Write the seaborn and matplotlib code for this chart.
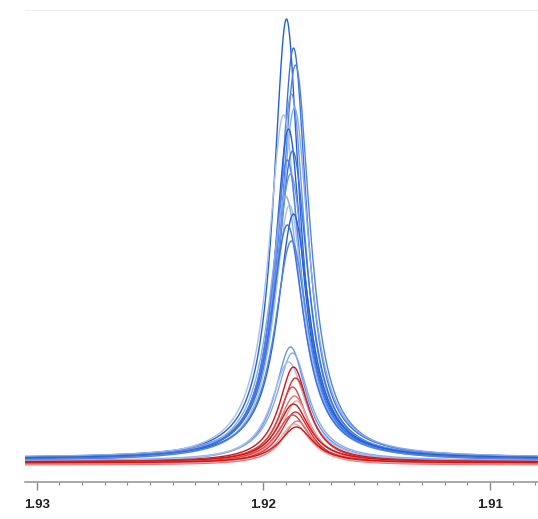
import numpy as np
import pandas as pd
import matplotlib
matplotlib.use("Agg")
import matplotlib.pyplot as plt
import seaborn as sns
from matplotlib.ticker import MultipleLocator

# ---- data ----
# blue spectra: peak position (ppm), peak height (arb.), half width (ppm)
blue_centers = [1.91898, 1.91867, 1.91858, 1.91876, 1.91863, 1.91911, 1.91889, 1.91871,
                1.91894, 1.91880, 1.91902, 1.91885, 1.91867, 1.91894, 1.91876, 1.91880,
                1.91871, 1.91889]
blue_heights = [440, 410, 395, 365, 350, 345, 330, 310, 300, 285, 265, 255, 245, 235, 220,
                115, 108, 100]
blue_widths = [0.00070, 0.00072, 0.00078, 0.00075, 0.00080, 0.00082, 0.00076, 0.00084,
               0.00079, 0.00085, 0.00088, 0.00082, 0.00086, 0.00090, 0.00092,
               0.00085, 0.00088, 0.00092]
blue_offsets = [3, 4, 2, 3, 4, 2, 3, 1, 2, 3, 1, 2, 3, 2, 1, 0, 1, 0]

red_centers = [1.91867, 1.91858, 1.91871, 1.91863, 1.91854, 1.91867, 1.91858, 1.91871,
               1.91850, 1.91863, 1.91854]
red_heights = [95, 85, 75, 68, 62, 58, 52, 48, 44, 40, 36]
red_widths = [0.00078, 0.00080, 0.00076, 0.00084, 0.00078, 0.00086, 0.00082, 0.00088,
              0.00080, 0.00085, 0.00090]
red_offsets = [0, -1, 0, -2, -1, 0, -2, -1, -3, -2, -1]

tick_labels = ["1.93", "1.92", "1.91"]

# ---- build long-form table ----
ppm = np.linspace(1.9079, 1.9306, 1500)
rows = []
def add(group, i, c, h, w, off):
    y = h / (1.0 + ((ppm - c) / w) ** 2) + off
    rows.append(pd.DataFrame({"ppm": ppm, "I": y, "spec": f"{group}{i:02d}"}))

for i, (c, h, w, o) in enumerate(zip(blue_centers, blue_heights, blue_widths, blue_offsets)):
    add("b", i, c, h, w, o)
for i, (c, h, w, o) in enumerate(zip(red_centers, red_heights, red_widths, red_offsets)):
    add("r", i, c, h, w, o)
df = pd.concat(rows, ignore_index=True)

nb, nr = len(blue_centers), len(red_centers)
blue_cmap = matplotlib.colors.LinearSegmentedColormap.from_list("bl", ["#2260d8", "#5b8ae6", "#a6bfee"])
red_cmap = matplotlib.colors.LinearSegmentedColormap.from_list("rd", ["#d01515", "#d84848", "#e8a6a6"])
palette = {}
for i in range(nb):
    palette[f"b{i:02d}"] = blue_cmap((i % 6) / 5.0)
for i in range(nr):
    palette[f"r{i:02d}"] = red_cmap((i % 5) / 4.0)

# ---- plot ----
sns.set_style("white")
fig = plt.figure(figsize=(5.38, 5.19), dpi=100)
ax = fig.add_axes([0.046, 0.0713, 0.954, 0.9094])

order = [f"b{i:02d}" for i in range(nb)] + [f"r{i:02d}" for i in range(nr)]
sns.lineplot(data=df, x="ppm", y="I", hue="spec", hue_order=order, palette=palette,
             linewidth=1.0, legend=False, ax=ax, estimator=None, sort=False)

ax.set_xlim(1.93053, 1.90788)
ax.set_ylim(-20, 452)
ax.set_xlabel("")
ax.set_ylabel("")
ax.set_yticks([])
ax.set_xticks([1.93, 1.92, 1.91])
ax.set_xticklabels(tick_labels, fontfamily="Liberation Sans", fontweight="bold",
                   fontsize=9.5, color="#222222")
ax.xaxis.set_minor_locator(MultipleLocator(0.001))
ax.tick_params(axis="x", which="major", direction="out", length=6, width=1, color="#888888", pad=6)
ax.tick_params(axis="x", which="minor", direction="out", length=2.5, width=0.8, color="#888888")
ax.tick_params(axis="x", bottom=True, which="both")
for s in ["left", "right"]:
    ax.spines[s].set_visible(False)
ax.spines["top"].set_color("#f0f0f0")
ax.spines["bottom"].set_color("#999999")
ax.spines["bottom"].set_linewidth(1.2)

fig.savefig("out.png", dpi=100)
